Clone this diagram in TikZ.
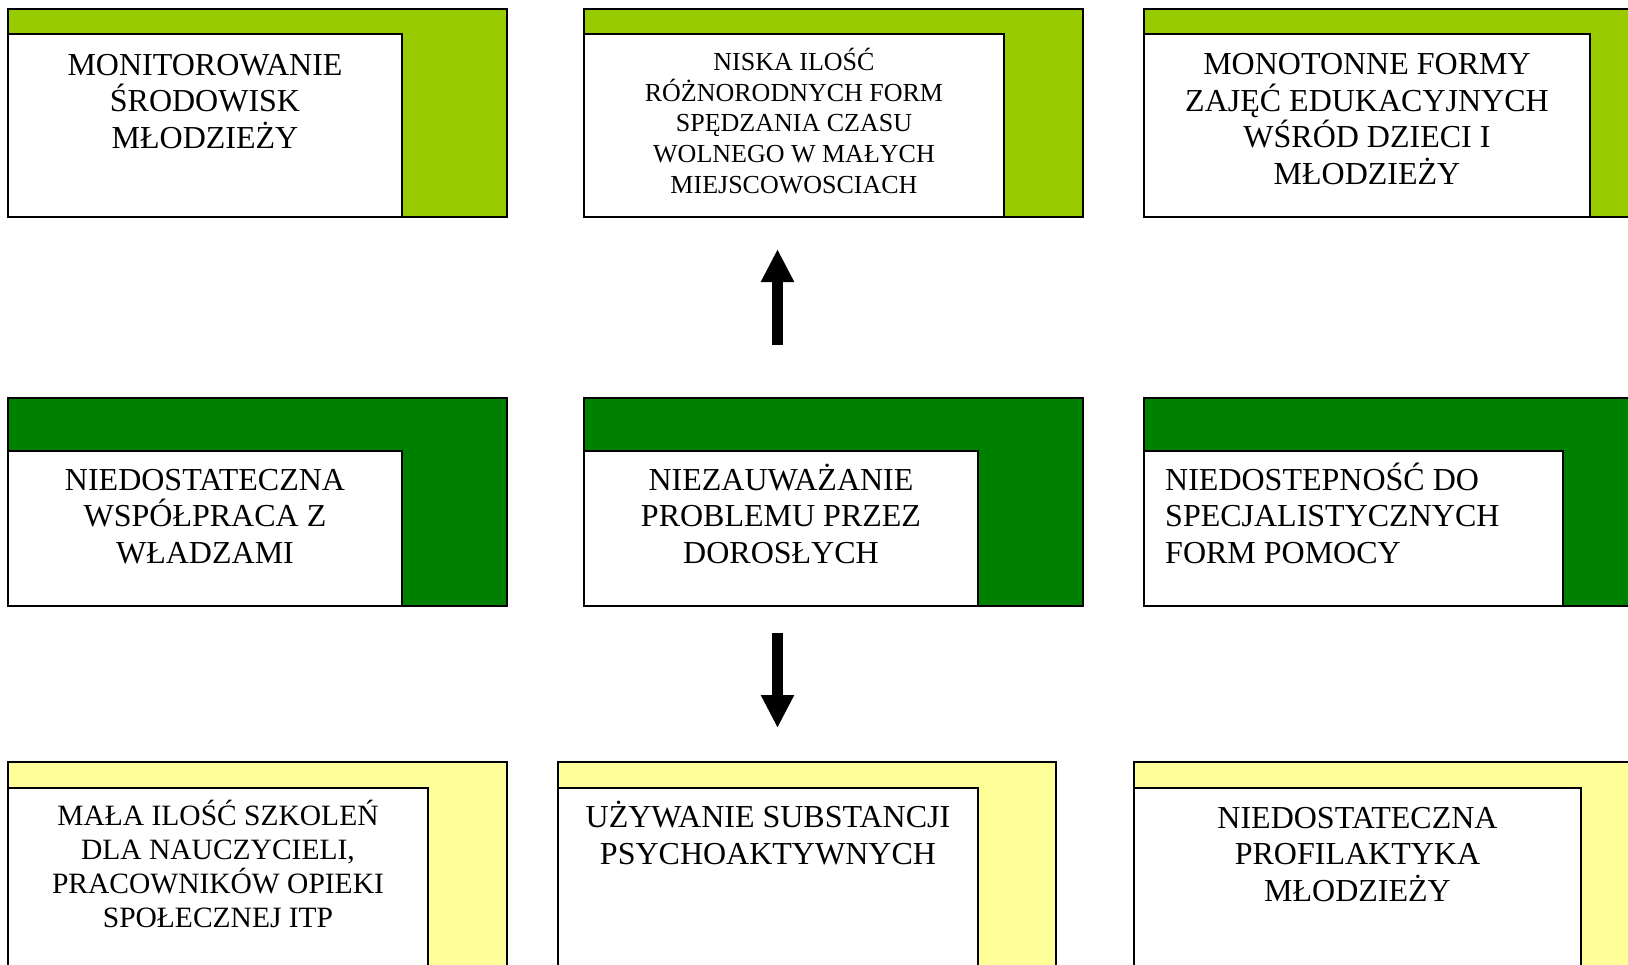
\documentclass[tikz,border=0pt]{standalone}
\usepackage{fontspec}
\setmainfont{Liberation Serif}
\usetikzlibrary{arrows.meta}
\definecolor{lgreen}{HTML}{99CC00}
\definecolor{dgreen}{HTML}{008000}
\definecolor{lyellow}{HTML}{FFFF99}
\begin{document}
\begin{tikzpicture}[x=1pt,y=-1pt,
  frame/.style={draw=black,line width=2pt,anchor=north west,inner sep=0pt,outer sep=0pt},
  inbox/.style={frame,fill=white},
  bigtxt/.style={font=\fontsize{32}{36.5}\selectfont,align=center,anchor=base,inner sep=0pt},
  midtxt/.style={font=\fontsize{29.5}{34}\selectfont,align=center,anchor=base,inner sep=0pt},
  smalltxt/.style={font=\fontsize{26}{30.6}\selectfont,align=center,anchor=base,inner sep=0pt},
  bigarrow/.style={line width=11pt,-{Triangle[length=33pt,width=31pt]}}
]
\useasboundingbox (0,0) rectangle (1628,964);
\clip (0,0) rectangle (1628,964);
\fill[white] (0,0) rectangle (1628,964);

% Row 1
\node[frame,fill=lgreen,minimum width=499pt,minimum height=208pt] (Aout) at (8,9) {};
\node[inbox,minimum width=394pt,minimum height=183pt] (Ain) at (8,34) {};
\node[frame,fill=lgreen,minimum width=499pt,minimum height=208pt] (Bout) at (584,9) {};
\node[inbox,minimum width=420pt,minimum height=183pt] (Bin) at (584,34) {};
\node[frame,fill=lgreen,minimum width=500pt,minimum height=208pt] (Cout) at (1144,9) {};
\node[inbox,minimum width=446pt,minimum height=183pt] (Cin) at (1144,34) {};

% Row 2
\node[frame,fill=dgreen,minimum width=499pt,minimum height=208pt] (Dout) at (8,398) {};
\node[inbox,minimum width=394pt,minimum height=155pt] (Din) at (8,451) {};
\node[frame,fill=dgreen,minimum width=499pt,minimum height=208pt] (Eout) at (584,398) {};
\node[inbox,minimum width=394pt,minimum height=155pt] (Ein) at (584,451) {};
\node[frame,fill=dgreen,minimum width=500pt,minimum height=208pt] (Fout) at (1144,398) {};
\node[inbox,minimum width=419pt,minimum height=155pt] (Fin) at (1144,451) {};

% Row 3
\node[frame,fill=lyellow,minimum width=499pt,minimum height=220pt] (Gout) at (8,762) {};
\node[inbox,minimum width=420pt,minimum height=194pt] (Gin) at (8,788) {};
\node[frame,fill=lyellow,minimum width=498pt,minimum height=220pt] (Hout) at (558,762) {};
\node[inbox,minimum width=420pt,minimum height=194pt] (Hin) at (558,788) {};
\node[frame,fill=lyellow,minimum width=510pt,minimum height=220pt] (Iout) at (1134,762) {};
\node[inbox,minimum width=447pt,minimum height=194pt] (Iin) at (1134,788) {};

% Texts (anchor = baseline of the last line)
\node[bigtxt] (tA) at (205,148) {MONITOROWANIE\\ŚRODOWISK\\MŁODZIEŻY};
\node[smalltxt] (tB) at (794,193) {NISKA ILOŚĆ\\RÓŻNORODNYCH FORM\\SPĘDZANIA CZASU\\WOLNEGO W MAŁYCH\\MIEJSCOWOSCIACH};
\node[bigtxt] (tC) at (1367,184) {MONOTONNE FORMY\\ZAJĘĆ EDUKACYJNYCH\\WŚRÓD DZIECI I\\MŁODZIEŻY};
\node[bigtxt] (tD) at (205,563) {NIEDOSTATECZNA\\WSPÓŁPRACA Z\\WŁADZAMI};
\node[bigtxt] (tE) at (781,563) {NIEZAUWAŻANIE\\PROBLEMU PRZEZ\\DOROSŁYCH};
\node[bigtxt,align=left,anchor=base west] (tF) at (1165,563) {NIEDOSTEPNOŚĆ DO\\SPECJALISTYCZNYCH\\FORM POMOCY};
\node[midtxt] (tG) at (218,927) {MAŁA ILOŚĆ SZKOLEŃ\\DLA NAUCZYCIELI,\\PRACOWNIKÓW OPIEKI\\SPOŁECZNEJ ITP};
\node[bigtxt] (tH) at (768,864) {UŻYWANIE SUBSTANCJI\\PSYCHOAKTYWNYCH};
\node[bigtxt] (tI) at (1357.5,901) {NIEDOSTATECZNA\\PROFILAKTYKA\\MŁODZIEŻY};

% Arrows
\coordinate (upS) at (777.5,345);
\coordinate (upE) at (777.5,249);
\coordinate (dnS) at (777.5,633);
\coordinate (dnE) at (777.5,728);
\draw[bigarrow] (upS) -- (upE);
\draw[bigarrow] (dnS) -- (dnE);
\end{tikzpicture}
\end{document}
